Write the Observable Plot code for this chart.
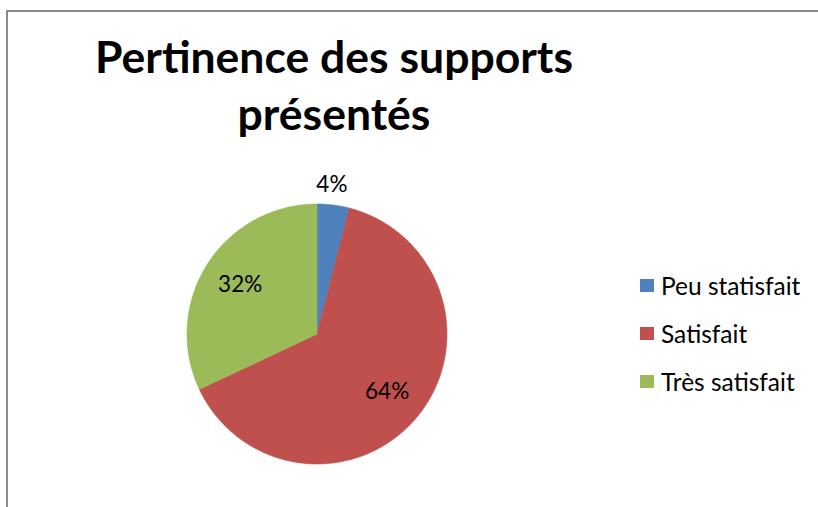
<!DOCTYPE html>
<html>
<head>
<meta charset="utf-8">
<script src="https://cdn.jsdelivr.net/npm/d3@7"></script>
<script src="https://cdn.jsdelivr.net/npm/@observablehq/plot@0.6"></script>
<style>
  html, body { margin: 0; padding: 0; background: #fff; }
  #wrap { position: relative; width: 818px; height: 507px; overflow: hidden; background: #fff; }
  #border { position: absolute; left: 6px; top: 10px; width: 1000px; height: 1000px;
            border-left: 2px solid #8a8a8a; border-top: 2px solid #8a8a8a; }
  #title { position: absolute; left: 0; width: 668px; top: 27px; text-align: center;
           font-family: Lato, "Open Sans", sans-serif; font-weight: bold; font-size: 44.5px;
           line-height: 57px; color: #000; white-space: nowrap; }
  #chart { position: absolute; left: 0; top: 0; }
  #legend { position: absolute; left: 640px; top: 261px; }
  .lg-swatches { margin: 0 !important; font-family: Lato, "Open Sans", sans-serif !important; font-size: 24.5px !important; color: #000; }
  .lg-swatch { height: 48.3px; margin: 0 !important; padding: 0 !important; display: flex; align-items: center; }
  .lg-swatch svg { margin-right: 7px !important; }
  .lg-label { overflow: visible !important; }
</style>
</head>
<body>
<div id="wrap">
  <div id="border"></div>
  <div id="title">Pertinence des supports<br>présentés</div>
  <div id="chart"></div>
  <div id="legend"></div>
</div>
<script>
const categories = ["Peu statisfait", "Satisfait", "Très satisfait"];
const values = [4, 64, 32];
const labels = ["4%", "64%", "32%"];
const colors = ["#4F81BD", "#C0504D", "#9BBB59"];

// Build slice polygons (angles clockwise from 12 o'clock) from the values
const total = d3.sum(values);
const slicePts = [];
const labelPts = [];
let acc = 0;
categories.forEach((c, i) => {
  const a0 = acc / total * 2 * Math.PI;
  const a1 = (acc + values[i]) / total * 2 * Math.PI;
  acc += values[i];
  slicePts.push({cat: c, x: 0, y: 0});
  const n = Math.max(2, Math.ceil((a1 - a0) / (Math.PI / 360)));
  for (let k = 0; k <= n; k++) {
    const a = a0 + (a1 - a0) * k / n;
    slicePts.push({cat: c, x: Math.sin(a), y: Math.cos(a)});
  }
  slicePts.push({cat: c, x: 0, y: 0});
  const am = (a0 + a1) / 2;
  const outside = values[i] / total < 0.1;
  const r = outside ? 1.16 : 0.7;
  labelPts.push({cat: c, text: labels[i], x: r * Math.sin(am), y: r * Math.cos(am), outside});
});

const color = {domain: categories, range: colors};

const chart = Plot.plot({
  width: 818,
  height: 507,
  margin: 0,
  style: {background: "transparent", overflow: "visible"},
  x: {domain: [-1, 1], range: [186.5, 446.5], axis: null},
  y: {domain: [-1, 1], range: [463.5, 203.5], axis: null},
  color,
  marks: [
    Plot.line(slicePts, {x: "x", y: "y", z: "cat", fill: "cat", stroke: "cat", strokeWidth: 0.6, curve: "linear"}),
    Plot.text(labelPts.filter(d => !d.outside), {x: "x", y: "y", text: "text", fontSize: 22.5, fontFamily: "Lato, 'Open Sans', sans-serif", fill: "#000"}),
    Plot.text(labelPts.filter(d => d.outside), {x: "x", y: "y", text: "text", dx: -4, fontSize: 22.5, fontFamily: "Lato, 'Open Sans', sans-serif", fill: "#000"})
  ]
});
document.getElementById("chart").appendChild(chart);

const legend = Plot.legend({
  color,
  legend: "swatches",
  columns: 1,
  swatchWidth: 14,
  swatchHeight: 13,
  className: "lg"
});
document.getElementById("legend").appendChild(legend);
</script>
</body>
</html>
